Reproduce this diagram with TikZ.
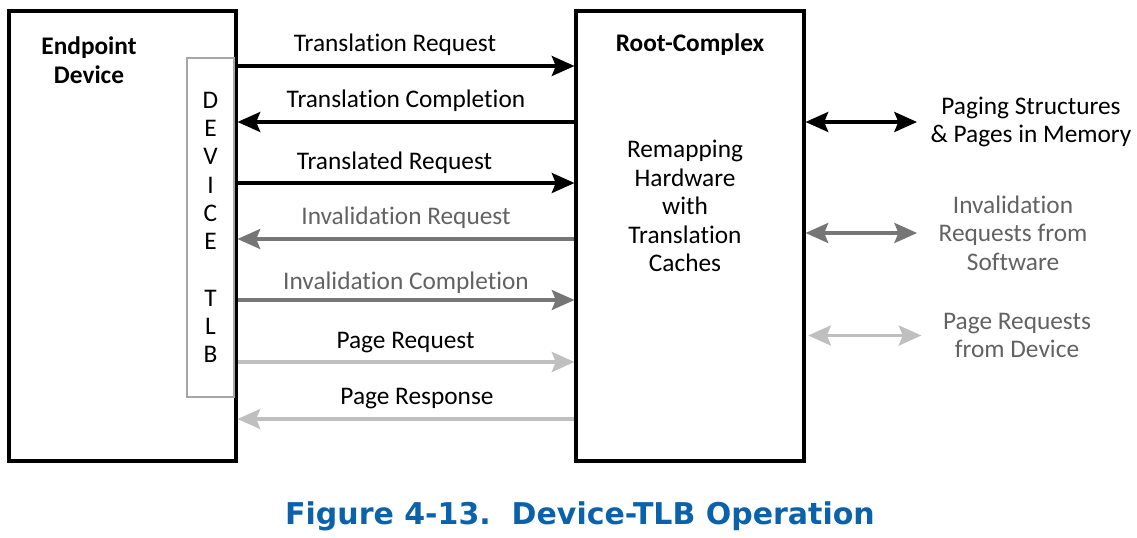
\documentclass[tikz,border=0pt]{standalone}
\usepackage{fontspec}
\setmainfont{Carlito}[Ligatures=NoCommon]
\newfontfamily\capfont{DejaVu Sans}
\usetikzlibrary{arrows.meta, positioning}
\definecolor{midgray}{HTML}{767676}
\definecolor{litegray}{HTML}{BFBFBF}
\definecolor{textgray}{HTML}{626262}
\definecolor{tlbgray}{HTML}{A6A6A6}
\definecolor{capblue}{HTML}{0B62AA}
\newcommand{\lblsize}{\fontsize{19}{21.4}\selectfont}
\tikzstyle{box} = [rectangle, draw=black, line width=2.3pt, minimum height=337.5pt]
\tikzstyle{tlbbox} = [rectangle, draw=tlbgray, line width=1.6pt, minimum width=35.25pt, minimum height=254.25pt, align=center, inner sep=0pt]
\tikzstyle{lbl} = [anchor=base, inner sep=0pt, font=\lblsize]
\tikzstyle{side} = [align=center, inner sep=0pt, font=\lblsize, text=textgray]
\tikzstyle{arrow} = [line width=2.6pt, -{Stealth[length=17pt, width=15pt, inset=3pt]}]
\tikzstyle{dbl} = [line width=2.6pt, {Stealth[length=17pt, width=15pt, inset=3pt]}-{Stealth[length=17pt, width=15pt, inset=3pt]}]

\begin{document}
\begin{tikzpicture}[x=0.75pt, y=-0.75pt]
\useasboundingbox (0,0) rectangle (1137,538);

% the two ends
\node (ep) [box, minimum width=170.25pt] at (122.5,236) {};
\node (rc) [box, minimum width=171pt] at (690,236) {};
\node (tlb) [tlbbox, font=\fontsize{19}{21.2}\selectfont] at (210.5,227.5) {D\\E\\V\\I\\C\\E\\\mbox{}\\T\\L\\B};

\node (eptitle) [align=center, font=\lblsize\bfseries] at (89,60) {Endpoint\\Device};
\node (rctitle) [lbl, font=\lblsize\bfseries] at (690,51.5) {Root-Complex};
\node (remap) [align=center, font=\lblsize] at (685,206) {Remapping\\Hardware\\with\\Translation\\Caches};

% messages between device and root-complex
\node (treq) [lbl] at (395,51.5) {Translation Request};
\node (tcpl) [lbl] at (406,107.5) {Translation Completion};
\node (tdreq) [lbl] at (394.5,169.5) {Translated Request};
\node (ireq) [lbl, text=textgray] at (406,224.5) {Invalidation Request};
\node (icpl) [lbl, text=textgray] at (406,289.5) {Invalidation Completion};
\node (preq) [lbl] at (405.5,348.5) {Page Request};
\node (presp) [lbl] at (417,404.5) {Page Response};

\draw [arrow, black] (ep.east |- 0,66) -- (rc.west |- 0,66);
\draw [arrow, black] (rc.west |- 0,122) -- (ep.east |- 0,122);
\draw [arrow, black] (ep.east |- 0,183) -- (rc.west |- 0,183);
\draw [arrow, midgray] (rc.west |- 0,239) -- (ep.east |- 0,239);
\draw [arrow, midgray] (ep.east |- 0,300) -- (rc.west |- 0,300);
\draw [arrow, litegray] (ep.east |- 0,362) -- (rc.west |- 0,362);
\draw [arrow, litegray] (rc.west |- 0,419) -- (ep.east |- 0,419);

% memory side
\node (mem) [side, text=black] at (1031,122) {Paging Structures\\\& Pages in Memory};
\node (sw) [side] at (1013,233) {Invalidation\\Requests from\\Software};
\node (dev) [side] at (1017,335.5) {Page Requests\\from Device};

\draw [dbl, black] (rc.east |- mem) -- ([xshift=-10pt]mem.west);
\draw [dbl, midgray] (rc.east |- sw) -- ([xshift=-16pt]sw.west);
\draw [dbl, litegray] ([xshift=2pt]rc.east |- dev) -- ([xshift=-16pt]dev.west);

\node (cap) [font=\capfont\bfseries\fontsize{22.5}{27}\selectfont, text=capblue] at (580,516) {Figure 4-13.\ \ Device-TLB Operation};

\end{tikzpicture}
\end{document}
